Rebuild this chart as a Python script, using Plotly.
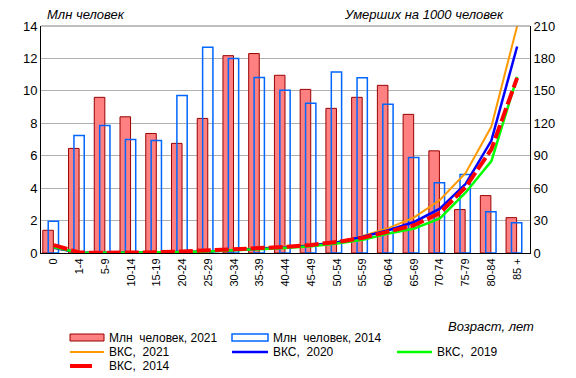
import plotly.graph_objects as go

ages = ["0", "1-4", "5-9", "10-14", "15-19", "20-24", "25-29", "30-34", "35-39",
        "40-44", "45-49", "50-54", "55-59", "60-64", "65-69", "70-74", "75-79",
        "80-84", "85 +"]

pop_2021 = [1.4, 6.45, 9.6, 8.4, 7.37, 6.76, 8.3, 12.17, 12.3, 10.96, 10.09, 8.92,
            9.6, 10.34, 8.55, 6.3, 2.68, 3.54, 2.18]
pop_2014 = [1.96, 7.25, 7.87, 7.0, 6.94, 9.72, 12.69, 12.0, 10.83, 10.04, 9.23, 11.16,
            10.81, 9.17, 5.89, 4.34, 4.84, 2.55, 1.87]

vks_2021 = [4.6, 0.25, 0.15, 0.2, 0.45, 0.9, 1.6, 2.9, 4.3, 5.6, 7.4, 10.3, 15.8,
            23, 33, 49, 74, 117, 210]
vks_2020 = [4.9, 0.25, 0.15, 0.2, 0.5, 0.9, 1.5, 2.6, 3.9, 5.1, 7.0, 9.8, 15,
            21, 28.7, 41, 64, 104, 191]
vks_2019 = [5.2, 0.25, 0.15, 0.2, 0.5, 0.9, 1.4, 2.4, 3.5, 4.6, 6.3, 8.7, 12.3,
            18, 22.6, 32, 56, 85, 163]
vks_2014 = [7.3, 0.4, 0.2, 0.25, 0.7, 1.4, 2.3, 3.5, 4.7, 5.6, 7.5, 10.2, 14,
            20, 25.7, 37, 61, 96, 162]

W, H = 576, 378
L, R, T, B = 41, 530, 26, 253
FONT = "Liberation Sans, Arial, sans-serif"

fig = go.Figure()
fig.add_trace(go.Bar(x=ages, y=pop_2021, name="Млн  человек, 2021",
                     marker=dict(color="#FF8080", line=dict(color="#990000", width=1)),
                     offset=-0.43, width=0.41, showlegend=False))
fig.add_trace(go.Bar(x=ages, y=pop_2014, name="Млн  человек, 2014",
                     marker=dict(color="rgba(0,0,0,0)", line=dict(color="#0066FF", width=1.5)),
                     offset=-0.22, width=0.40, showlegend=False))

line_specs = [
    (vks_2021, "ВКС,  2021", "#FF9900", 2, "solid"),
    (vks_2020, "ВКС,  2020", "#0000FF", 2.5, "solid"),
    (vks_2019, "ВКС,  2019", "#00FF00", 2.5, "solid"),
    (vks_2014, "ВКС,  2014", "#FF0000", 4, "14px,4px"),
]
for vals, nm, col, wd, dash in line_specs:
    fig.add_trace(go.Scatter(x=ages, y=vals, name=nm, yaxis="y2", mode="lines",
                             line=dict(color=col, width=wd, dash=dash),
                             showlegend=False, cliponaxis=True))

def px(x):
    return (x - L) / (R - L)

def py(y):
    return (B - y) / (B - T)

shapes = []
annotations = []

def legend_text(x, y, text):
    annotations.append(dict(x=px(x), y=py(y), xref="paper", yref="paper", text=text,
                            showarrow=False, xanchor="left", yanchor="middle",
                            font=dict(family=FONT, size=12, color="black")))

# Row 1
shapes.append(dict(type="rect", xref="paper", yref="paper", x0=px(70), x1=px(104),
                   y0=py(341), y1=py(334), fillcolor="#FF8080",
                   line=dict(color="#990000", width=1)))
legend_text(107, 338, "Млн  человек, 2021")
shapes.append(dict(type="rect", xref="paper", yref="paper", x0=px(232), x1=px(268),
                   y0=py(341), y1=py(334), fillcolor="rgba(0,0,0,0)",
                   line=dict(color="#0066FF", width=1.5)))
legend_text(271, 338, "Млн  человек, 2014")
# Row 2
for x0, x1, col, wd, tx, txt in [(70, 104, "#FF9900", 2, 107, "ВКС,  2021"),
                                  (232, 268, "#0000FF", 2.5, 271, "ВКС,  2020"),
                                  (397, 432, "#00FF00", 2.5, 435, "ВКС,  2019")]:
    shapes.append(dict(type="line", xref="paper", yref="paper", x0=px(x0), x1=px(x1),
                       y0=py(352), y1=py(352), line=dict(color=col, width=wd)))
    legend_text(tx, 352, txt)
# Row 3
shapes.append(dict(type="line", xref="paper", yref="paper", x0=px(70), x1=px(92),
                   y0=py(366), y1=py(366), line=dict(color="#FF0000", width=4)))
legend_text(107, 366, "ВКС,  2014")

# Axis titles
annotations.append(dict(x=px(45), y=py(14), xref="paper", yref="paper",
                        text="<i>Млн человек</i>", showarrow=False,
                        xanchor="left", yanchor="middle",
                        font=dict(family=FONT, size=13, color="black")))
annotations.append(dict(x=px(506), y=py(14), xref="paper", yref="paper",
                        text="<i>Умерших на 1000 человек</i>", showarrow=False,
                        xanchor="right", yanchor="middle",
                        font=dict(family=FONT, size=13, color="black")))
annotations.append(dict(x=px(536), y=py(327), xref="paper", yref="paper",
                        text="<i>Возраст, лет</i>", showarrow=False,
                        xanchor="right", yanchor="middle",
                        font=dict(family=FONT, size=13, color="black")))

fig.update_layout(
    width=W, height=H,
    margin=dict(l=L, r=W - R, t=T, b=H - B, pad=0),
    paper_bgcolor="white", plot_bgcolor="white",
    barmode="overlay",
    showlegend=False,
    hovermode=False,
    font=dict(family=FONT, size=13, color="black"),
    xaxis=dict(type="category", tickangle=-90, tickfont=dict(size=11),
               showline=True, linecolor="black", linewidth=1, mirror=False,
               showgrid=False, ticks="", range=[-0.5, len(ages) - 0.5]),
    yaxis=dict(range=[0, 14], dtick=2, showgrid=True, gridcolor="#B0B0B0",
               gridwidth=1, showline=True, linecolor="black", linewidth=1,
               ticks="", tickfont=dict(size=13), zeroline=False),
    yaxis2=dict(range=[0, 210], dtick=30, overlaying="y", side="right",
                showgrid=False, showline=True, linecolor="black", linewidth=1,
                ticks="", tickfont=dict(size=13), zeroline=False),
    shapes=shapes + [dict(type="line", xref="paper", yref="paper", x0=0, x1=1,
                          y0=1, y1=1, line=dict(color="#808080", width=1))],
    annotations=annotations,
)

fig.write_html(
    "out.html",
    config={"displayModeBar": False, "staticPlot": True},
    post_script="document.body.style.margin='0px';document.body.style.padding='0px';"
                "document.documentElement.style.overflow='hidden';",
)
